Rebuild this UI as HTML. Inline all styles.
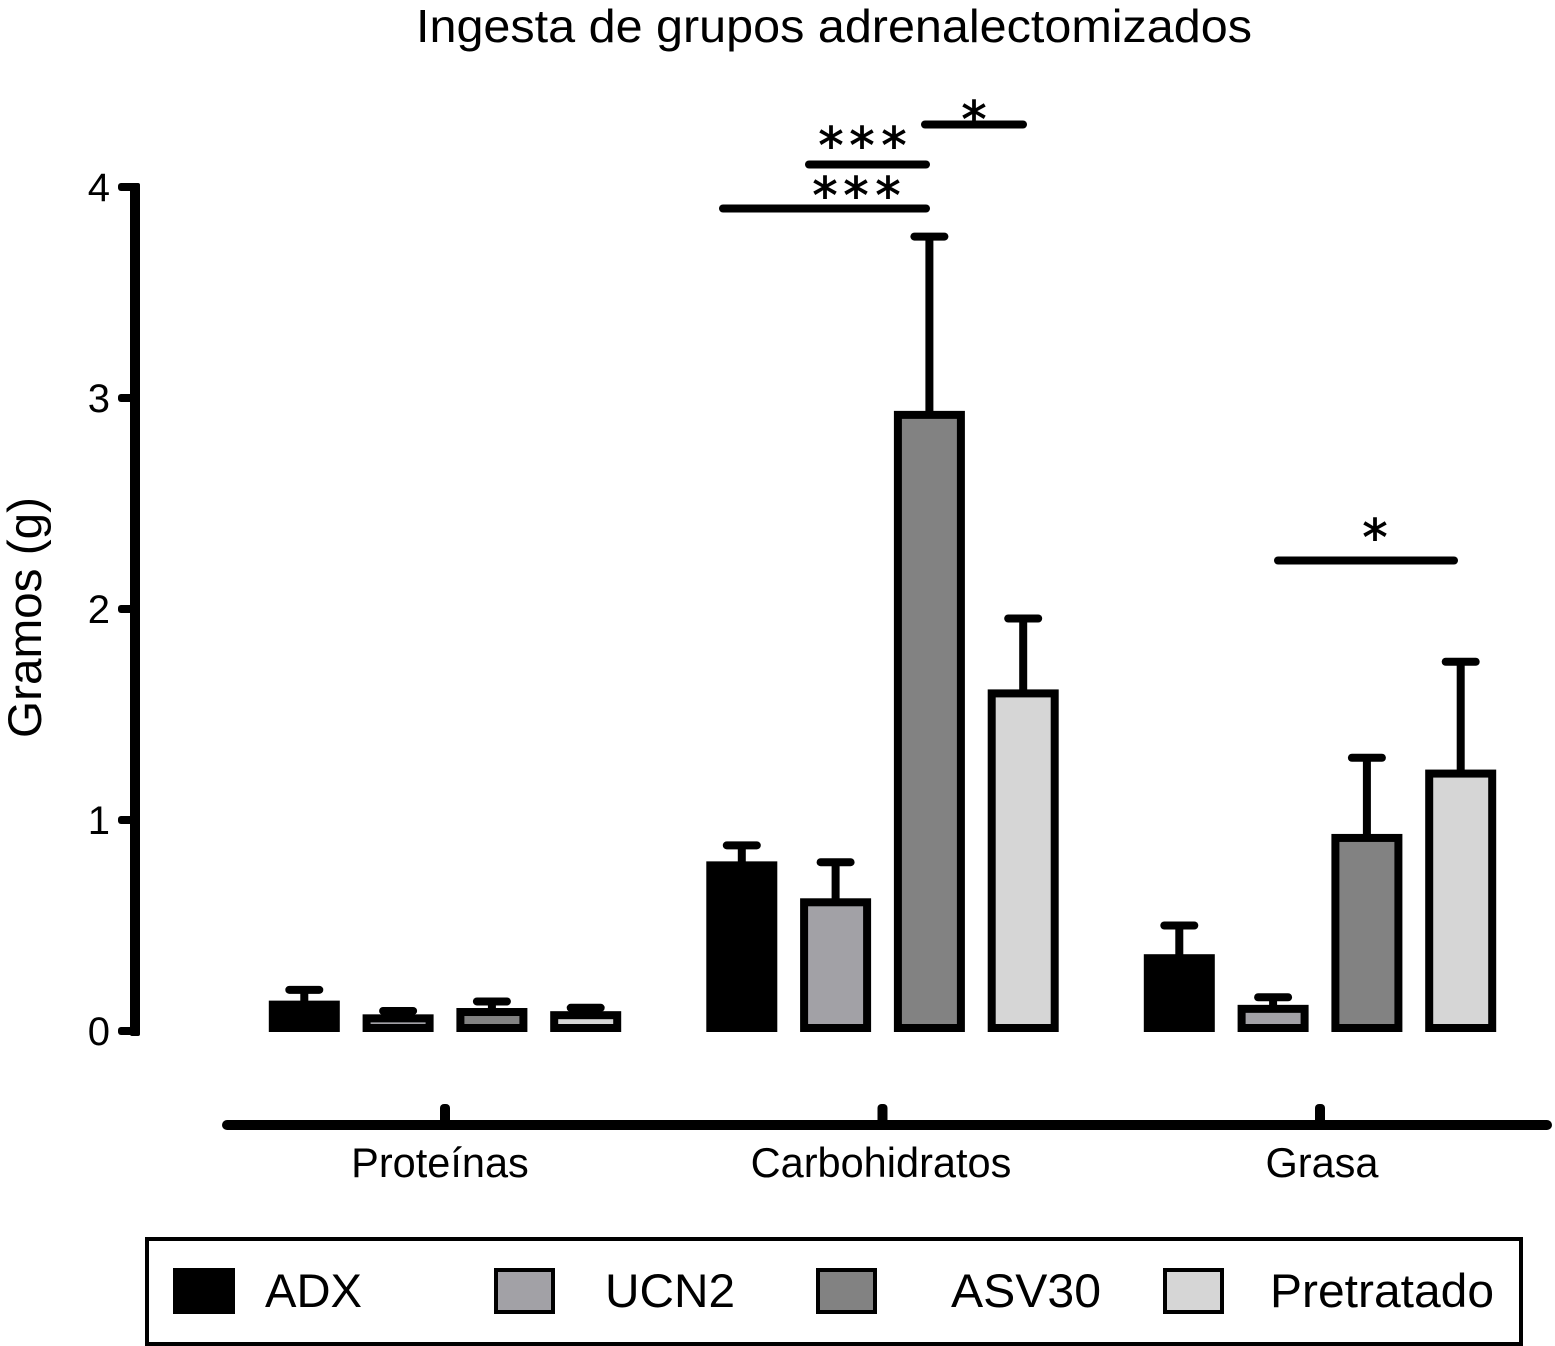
<!DOCTYPE html>
<html lang="es">
<head>
<meta charset="utf-8">
<title>Ingesta de grupos adrenalectomizados</title>
<style>
html,body{margin:0;padding:0;background:#fff;}
svg{display:block;}
text{font-family:"Liberation Sans",Arial,sans-serif;fill:#000;}
.star{font-family:"DejaVu Sans",sans-serif;font-size:50px;text-anchor:middle;stroke:#000;stroke-width:1;}
</style>
</head>
<body>
<svg id="chart" xmlns="http://www.w3.org/2000/svg" width="1555" height="1346" viewBox="0 0 1555 1346">
  <rect x="0" y="0" width="1555" height="1346" fill="#fff"/>
  <text x="416" y="42" font-size="46" textLength="836" lengthAdjust="spacingAndGlyphs">Ingesta de grupos adrenalectomizados</text>
  <text transform="translate(41,738) rotate(-90)" font-size="47" textLength="241" lengthAdjust="spacingAndGlyphs">Gramos (g)</text>
  <g id="marks"></g>

  <g stroke="#000" stroke-width="8" stroke-linecap="round">
    <line x1="723" x2="926" y1="208.500" y2="208.500"/>
    <line x1="809" x2="926" y1="164.500" y2="164.500"/>
    <line x1="925" x2="1023" y1="124.500" y2="124.500"/>
    <line x1="1278" x2="1454" y1="560.500" y2="560.500"/>
  </g>
  <g>
    <text class="star" x="825" y="213">*</text>
    <text class="star" x="856" y="213">*</text>
    <text class="star" x="888" y="213">*</text>
    <text class="star" x="831" y="163">*</text>
    <text class="star" x="862" y="163">*</text>
    <text class="star" x="894" y="163">*</text>
    <text class="star" x="974" y="137">*</text>
    <text class="star" x="1375" y="555">*</text>
  </g>

  <g>
    <rect x="147" y="1239" width="1374" height="105" fill="#fff" stroke="#000" stroke-width="4"/>
    <g>
      <rect x="175" y="1270" width="58" height="42" fill="#000" stroke="#000" stroke-width="4"/>
      <text x="265" y="1307" font-size="47" textLength="97" lengthAdjust="spacingAndGlyphs">ADX</text>
    </g>
    <g>
      <rect x="496" y="1270" width="57" height="42" fill="#a2a1a6" stroke="#000" stroke-width="4"/>
      <text x="605" y="1307" font-size="47" textLength="130" lengthAdjust="spacingAndGlyphs">UCN2</text>
    </g>
    <g>
      <rect x="818" y="1270" width="57" height="42" fill="#828282" stroke="#000" stroke-width="4"/>
      <text x="951" y="1307" font-size="47" textLength="150" lengthAdjust="spacingAndGlyphs">ASV30</text>
    </g>
    <g>
      <rect x="1165" y="1270" width="57" height="42" fill="#d6d6d6" stroke="#000" stroke-width="4"/>
      <text x="1270" y="1307" font-size="47" textLength="224" lengthAdjust="spacingAndGlyphs">Pretratado</text>
    </g>
  </g>
</svg>
<script>
const categories = ["Proteínas", "Carbohidratos", "Grasa"];
const seriesNames = ["ADX", "UCN2", "ASV30", "Pretratado"];
const seriesFills = ["#000000", "#a2a1a6", "#828282", "#d6d6d6"];
const adxValues = [0.125, 0.785, 0.345];
const ucn2Values = [0.06, 0.61, 0.105];
const asv30Values = [0.09, 2.92, 0.915];
const pretratadoValues = [0.075, 1.60, 1.22];
const adxErrorTops = [0.195, 0.88, 0.50];
const ucn2ErrorTops = [0.095, 0.80, 0.16];
const asv30ErrorTops = [0.14, 3.765, 1.295];
const pretratadoErrorTops = [0.11, 1.955, 1.75];
const yTicks = [0, 1, 2, 3, 4];

const seriesValues = [adxValues, ucn2Values, asv30Values, pretratadoValues];
const seriesErrorTops = [adxErrorTops, ucn2ErrorTops, asv30ErrorTops, pretratadoErrorTops];
const SVGNS = "http://www.w3.org/2000/svg";
const marks = document.getElementById("marks");

function yScale(v) { return 1031 - 211 * v; }
function groupCenter(i) { return 445 + 437.5 * i; }
function barCenter(g, s) { return groupCenter(g) + 93.8 * (s - 1.5); }
function slug(t) { return t.toLowerCase().normalize("NFD").replace(/[^a-z0-9]+/g, ""); }

function make(tag, props) {
  const el = document.createElementNS(SVGNS, tag);
  for (const k in props) el.setAttribute(k, props[k]);
  marks.appendChild(el);
  return el;
}

// y axis
const yLine = make("rect", { x: 130, y: yScale(4) - 4, width: 10, height: yScale(0) - yScale(4) + 9, rx: 2, fill: "#000" });


yTicks.forEach(function (t) {
  const tick = make("rect", { x: 118, y: yScale(t) - 4, width: 18, height: 8, rx: 3, fill: "#000" });
  
  
  const label = make("text", { x: 110, y: yScale(t) + 14, "font-size": 40, "text-anchor": "end" });
  label.textContent = String(t);
  
  
});

// x axis
const xLine = make("rect", { x: 222, y: 1120, width: 1330, height: 10, rx: 5, fill: "#000" });


categories.forEach(function (c, i) {
  const tick = make("rect", { x: groupCenter(i) - 5, y: 1104, width: 10, height: 20, rx: 4, fill: "#000" });
  
  
  const label = make("text", { x: groupCenter(i) - 5 + 3.5 * i, y: 1177, "font-size": 41.500, "text-anchor": "middle" });
  label.textContent = c;
  
  
});

// bars and error bars
const BAR_W = 63;
const BAR_FLOOR = yScale(0) - 3;
seriesNames.forEach(function (name, s) {
  categories.forEach(function (c, g) {
    const cx = barCenter(g, s);
    const top = yScale(seriesValues[s][g]);
    const errTop = yScale(seriesErrorTops[s][g]);

    const stem = make("line", { x1: cx, x2: cx, y1: top, y2: errTop, stroke: "#000", "stroke-width": 8 });
    
    

    const cap = make("line", { x1: cx - 15, x2: cx + 15, y1: errTop, y2: errTop, stroke: "#000", "stroke-width": 8, "stroke-linecap": "round" });
    
    

    const bar = make("rect", { x: cx - BAR_W / 2, y: top, width: BAR_W, height: BAR_FLOOR - top, fill: seriesFills[s], stroke: "#000", "stroke-width": 8, "stroke-linejoin": "miter" });
    
    
  });
});
</script>
</body>
</html>
